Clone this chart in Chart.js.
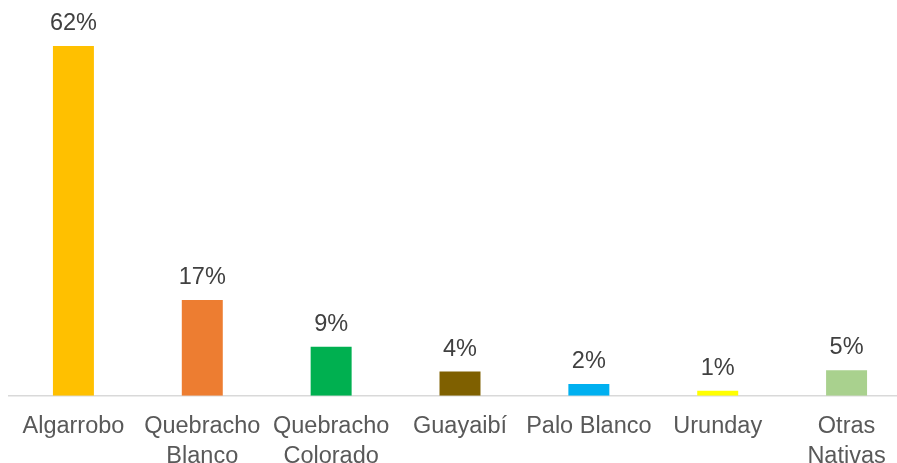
<!DOCTYPE html>
<html>
<head>
<meta charset="utf-8">
<script src="https://cdn.jsdelivr.net/npm/chart.js@4"></script>
<style>
  html, body { margin: 0; padding: 0; background: #fff; overflow: hidden; }
  /* slightly wider than the window: the last category runs past the right edge, as in the original */
  #wrap { width: 911px; height: 463px; position: relative; }
</style>
</head>
<body>
<div id="wrap"><canvas id="chart"></canvas></div>
<script>
// Species categories (multi-line labels as in the original)
const species = [
  'Algarrobo',
  ['Quebracho', 'Blanco'],
  ['Quebracho', 'Colorado'],
  'Guayaibí',
  'Palo Blanco',
  'Urunday',
  ['Otras', 'Nativas']
];
// Share of each species, in percent
const shares = [62, 17, 8.7, 4.3, 2.1, 0.9, 4.55];
const barColors = ['#FFC000', '#ED7D31', '#00B050', '#7F6000', '#00B0F0', '#FFFF00', '#A9D18E'];

// Draw the % labels above each bar
const valueLabels = {
  id: 'valueLabels',
  afterDatasetsDraw(chart) {
    const ctx = chart.ctx;
    const meta = chart.getDatasetMeta(0);
    ctx.save();
    ctx.font = '23.5px "Liberation Sans", Arial, sans-serif';
    ctx.fillStyle = '#404040';
    ctx.textAlign = 'center';
    ctx.textBaseline = 'alphabetic';
    meta.data.forEach((bar, i) => {
      ctx.fillText(Math.round(shares[i]) + '%', bar.x, bar.y - 16);
    });
    ctx.restore();
  }
};

new Chart(document.getElementById('chart'), {
  type: 'bar',
  data: {
    labels: species,
    datasets: [{
      data: shares,
      backgroundColor: barColors,
      categoryPercentage: 1,
      barPercentage: 0.318
    }]
  },
  options: {
    responsive: true,
    maintainAspectRatio: false,
    animation: false,
    layout: { padding: { left: 9, right: 0, top: 1, bottom: -25 } },
    plugins: { legend: { display: false }, tooltip: { enabled: false } },
    scales: {
      y: { display: false, min: 0, max: 70 },
      x: {
        grid: { display: false, drawTicks: false },
        border: { color: '#d9d9d9', width: 1.5 },
        ticks: {
          color: '#595959',
          padding: 16,
          maxRotation: 0,
          autoSkip: false,
          font: { family: '"Liberation Sans", Arial, sans-serif', size: 23.5, lineHeight: 1.28 }
        }
      }
    }
  },
  plugins: [valueLabels]
});
</script>
</body>
</html>
